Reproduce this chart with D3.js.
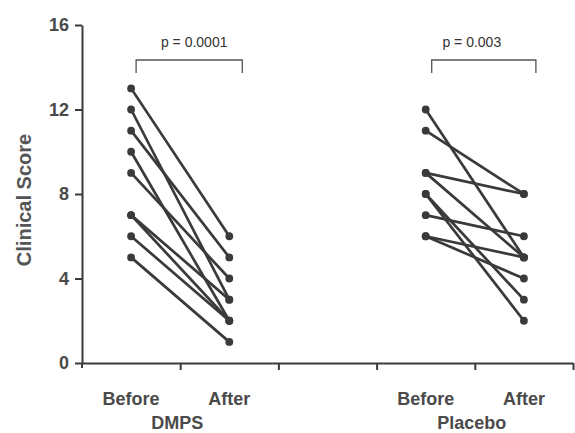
<!DOCTYPE html>
<html>
<head>
<meta charset="utf-8">
<script src="https://cdn.jsdelivr.net/npm/d3@7"></script>
<style>
  html, body { margin: 0; padding: 0; background: #fff; }
  svg { display: block; }
</style>
</head>
<body>
<svg id="chart" width="575" height="433"></svg>
<script>
// ---- data ----
const groups = ["DMPS", "Placebo"];
const timeLabels = ["Before", "After"];
const yTicks = [0, 4, 8, 12, 16];
const dmpsBefore = [13, 12, 11, 10, 9, 7, 7, 6, 5];
const dmpsAfter  = [6, 3, 5, 2, 4, 3, 2, 2, 1];
const placeboBefore = [12, 11, 9, 9, 8, 8, 7, 6, 6];
const placeboAfter  = [5, 8, 8, 5, 3, 2, 6, 5, 4];
const pValues = ["p = 0.0001", "p = 0.003"];
const yLabel = "Clinical Score";

// ---- layout ----
const svg = d3.select("#chart");
const ink = "#3a3a3a";
const textInk = "#4a4a4a";
const font = "'Liberation Sans', Arial, sans-serif";

const x = d3.scaleLinear().domain([0, 5]).range([82, 573]);
const y = d3.scaleLinear().domain([0, 16]).range([363, 25]);

const groupPos = [1, 4];
const beforeAt = g => groupPos[g] - 0.5;
const afterAt = g => groupPos[g] + 0.5;

// y axis
const yAxis = svg.append("g")
  .attr("transform", `translate(${x(0)},0)`)
  .call(d3.axisLeft(y).tickValues(yTicks).tickSize(7).tickPadding(6).tickSizeOuter(0));
yAxis.select(".domain").attr("stroke", ink).attr("stroke-width", 2);
yAxis.selectAll(".tick line").attr("stroke", ink).attr("stroke-width", 2);
yAxis.selectAll(".tick text")
  .attr("fill", textInk).attr("font-family", font)
  .attr("font-weight", "bold").attr("font-size", 18);
svg.append("line").attr("x1", x(0)).attr("x2", x(0))
  .attr("y1", y(0)).attr("y2", y(0) + 5)
  .attr("stroke", ink).attr("stroke-width", 2);

// x axis
const xAxis = svg.append("g")
  .attr("transform", `translate(0,${y(0)})`)
  .call(d3.axisBottom(x).tickValues([1, 2, 3, 4, 5]).tickSize(7).tickSizeOuter(0).tickFormat(""));
xAxis.select(".domain").attr("stroke", ink).attr("stroke-width", 2);
xAxis.selectAll(".tick line").attr("stroke", ink).attr("stroke-width", 2);

// x labels
groups.forEach((gName, g) => {
  [beforeAt(g), afterAt(g)].forEach((pos, i) => {
    svg.append("text")
      .attr("x", x(pos)).attr("y", 405)
      .attr("text-anchor", "middle")
      .attr("fill", textInk).attr("font-family", font)
      .attr("font-weight", "bold").attr("font-size", 18)
      .text(timeLabels[i]);
  });
  svg.append("text")
    .attr("x", x(groupPos[g]) - 3).attr("y", 429)
    .attr("text-anchor", "middle")
    .attr("fill", textInk).attr("font-family", font)
    .attr("font-weight", "bold").attr("font-size", 18)
    .text(gName);
});

// y label
svg.append("text")
  .attr("transform", `translate(31,200) rotate(-90)`)
  .attr("text-anchor", "middle")
  .attr("fill", "#555").attr("font-family", font)
  .attr("font-weight", "bold").attr("font-size", 20)
  .text(yLabel);

// paired lines
const series = [
  { before: dmpsBefore, after: dmpsAfter },
  { before: placeboBefore, after: placeboAfter }
];
series.forEach((s, g) => {
  const pairs = s.before.map((b, i) => ({ b, a: s.after[i] }));
  const grp = svg.append("g");
  grp.selectAll("line.pair").data(pairs).join("line")
    .attr("class", "pair")
    .attr("x1", x(beforeAt(g))).attr("y1", d => y(d.b))
    .attr("x2", x(afterAt(g))).attr("y2", d => y(d.a))
    .attr("stroke", ink).attr("stroke-width", 2.7);
  grp.selectAll("circle.b").data(pairs).join("circle")
    .attr("class", "b")
    .attr("cx", x(beforeAt(g))).attr("cy", d => y(d.b)).attr("r", 3.9)
    .attr("fill", ink);
  grp.selectAll("circle.a").data(pairs).join("circle")
    .attr("class", "a")
    .attr("cx", x(afterAt(g))).attr("cy", d => y(d.a)).attr("r", 3.9)
    .attr("fill", ink);
});

// significance brackets
const bracketLeftOffset = [5, 6];
const bracketRightOffset = [13, 12];
const textShift = [5, -12];
groups.forEach((gName, g) => {
  const x1 = x(beforeAt(g)) + bracketLeftOffset[g];
  const x2 = x(afterAt(g)) + bracketRightOffset[g];
  const yt = 60, yb = 73;
  svg.append("path")
    .attr("d", `M${x1},${yb}V${yt}H${x2}V${yb}`)
    .attr("fill", "none").attr("stroke", "#555").attr("stroke-width", 1.3);
  svg.append("text")
    .attr("x", (x1 + x2) / 2 + textShift[g]).attr("y", 47)
    .attr("text-anchor", "middle")
    .attr("fill", "#333").attr("font-family", font)
    .attr("font-size", 14)
    .text(pValues[g]);
});
</script>
</body>
</html>
